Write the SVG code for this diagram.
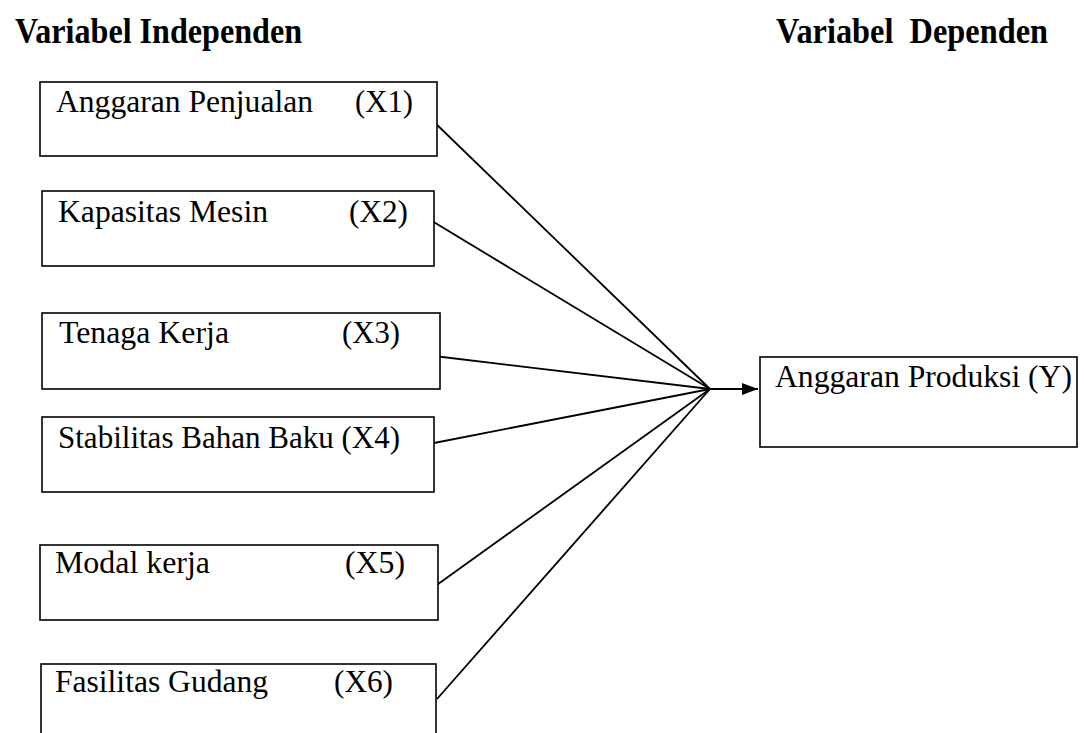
<svg xmlns="http://www.w3.org/2000/svg" width="1084" height="733" viewBox="0 0 1084 733">
<style>
.box{fill:#fff;stroke:#000;stroke-width:1.6}
.t{font-family:"Liberation Serif","Times New Roman",serif;font-size:32px;fill:#000}
.h{font-family:"Liberation Serif","Times New Roman",serif;font-size:35px;font-weight:bold;fill:#000}
.c{stroke:#000;stroke-width:1.8;fill:none}
</style>
<defs>
<marker id="arr" markerWidth="16" markerHeight="12" refX="16" refY="6" orient="auto" markerUnits="userSpaceOnUse">
<path d="M0,0 L16,6 L0,12 Z" fill="#000"/>
</marker>
</defs>
<rect width="1084" height="733" fill="#fff"/>
<g id="headings">
<text class="h" x="15" y="43" textLength="287" lengthAdjust="spacingAndGlyphs">Variabel Independen</text>
<text class="h" x="776" y="43" textLength="272" lengthAdjust="spacingAndGlyphs" xml:space="preserve">Variabel  Dependen</text>
</g>
<g id="connectors">
<line class="c" x1="432" y1="120" x2="710" y2="389"/>
<line class="c" x1="432" y1="221" x2="710" y2="389"/>
<line class="c" x1="434" y1="356" x2="710" y2="389"/>
<line class="c" x1="434" y1="443" x2="710" y2="389"/>
<line class="c" x1="434" y1="587" x2="710" y2="389"/>
<line class="c" x1="437" y1="699" x2="710" y2="389"/>
<line class="c" x1="710" y1="389" x2="758" y2="389" marker-end="url(#arr)"/>
</g>
<g id="x1">
<rect class="box" x="40" y="82" width="397" height="74"/>
<text class="t" x="56" y="112" textLength="257" lengthAdjust="spacingAndGlyphs">Anggaran Penjualan</text>
<text class="t" x="355" y="112" textLength="58" lengthAdjust="spacingAndGlyphs">(X1)</text>
</g>
<g id="x2">
<rect class="box" x="42" y="191" width="392" height="75"/>
<text class="t" x="58" y="222" textLength="210" lengthAdjust="spacingAndGlyphs">Kapasitas Mesin</text>
<text class="t" x="349" y="222" textLength="59" lengthAdjust="spacingAndGlyphs">(X2)</text>
</g>
<g id="x3">
<rect class="box" x="42" y="313" width="398" height="76"/>
<text class="t" x="59" y="343" textLength="170" lengthAdjust="spacingAndGlyphs">Tenaga Kerja</text>
<text class="t" x="342" y="343" textLength="58" lengthAdjust="spacingAndGlyphs">(X3)</text>
</g>
<g id="x4">
<rect class="box" x="42" y="417" width="392" height="75"/>
<text class="t" x="58" y="448" textLength="342" lengthAdjust="spacingAndGlyphs">Stabilitas Bahan Baku (X4)</text>
</g>
<g id="x5">
<rect class="box" x="40" y="545" width="398" height="75"/>
<text class="t" x="55" y="573" textLength="155" lengthAdjust="spacingAndGlyphs">Modal kerja</text>
<text class="t" x="345" y="573" textLength="60" lengthAdjust="spacingAndGlyphs">(X5)</text>
</g>
<g id="x6">
<rect class="box" x="41" y="664" width="395" height="80"/>
<text class="t" x="55" y="692" textLength="213" lengthAdjust="spacingAndGlyphs">Fasilitas Gudang</text>
<text class="t" x="334" y="692" textLength="59" lengthAdjust="spacingAndGlyphs">(X6)</text>
</g>
<g id="y">
<rect class="box" x="760" y="357" width="317" height="90"/>
<text class="t" x="775" y="387" textLength="297" lengthAdjust="spacingAndGlyphs">Anggaran Produksi (Y)</text>
</g>
</svg>
